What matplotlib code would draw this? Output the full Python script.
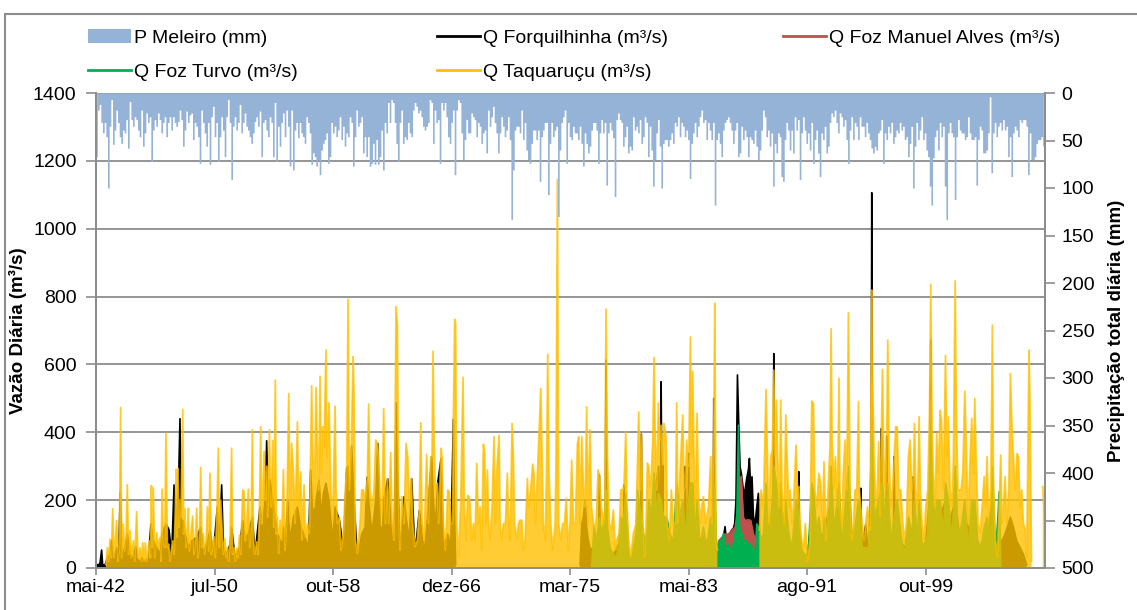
import numpy as np
import matplotlib
matplotlib.use("Agg")
import matplotlib.pyplot as plt
from matplotlib.patches import Patch, Rectangle
from matplotlib.lines import Line2D

plt.rcParams['font.family'] = ['Liberation Sans', 'DejaVu Sans']

nan = float('nan')

# ---------------- data ----------------
X_START = 1942.33          # 1 May 1942 (decimal year)
SPAN_DAYS = 24025
TICK_STEP_DAYS = 3000
TICK_LABELS = ['mai-42', 'jul-50', 'out-58', 'dez-66', 'mar-75', 'mai-83', 'ago-91', 'out-99']

# daily precipitation (max in each ~42-day window), mm
P_START = 1942.376
P_STEP = 0.11553
P_MM = [
 67,18,12,31,42,31,46,100,35,7,54,39,18,31,46,53,39,42,28,58,9,28,35,25,28,39,46,18,56,42,21,31,25,72,39,28,35,21,28,42,
 31,25,46,31,25,39,25,31,35,30,18,28,56,39,19,31,23,21,49,31,35,46,74,18,31,42,56,31,75,25,14,46,31,72,46,25,39,67,25,7,
 31,91,35,25,39,31,12,42,31,21,35,39,46,53,42,30,25,35,19,67,31,28,39,46,25,31,67,10,72,35,
 56,31,21,46,18,35,77,18,81,39,31,47,31,42,46,53,25,31,42,75,63,67,77,70,86,60,53,49,42,74,67,31,42,35,46,39,25,49,35,56,
 42,46,25,31,77,46,18,35,31,25,63,46,67,46,77,74,53,75,49,75,67,39,81,31,42,10,31,7,10,31,53,72,31,18,53,46,49,31,42,46,
 18,10,14,21,18,25,35,39,35,31,7,10,53,18,31,28,74,10,18,10,25,46,53,31,18,86,18,7,10,42,70,49,28,42,
 42,21,25,28,46,31,35,53,42,39,63,18,35,25,14,31,42,63,42,25,35,46,39,25,49,133,81,39,35,35,42,18,49,31,60,70,74,53,39,39,
 49,39,93,46,39,31,31,107,53,31,46,39,35,130,60,31,25,18,74,31,46,49,35,42,42,49,35,53,77,42,53,63,56,39,31,31,39,74,42,28,
 42,31,97,42,31,39,47,109,28,21,28,31,56,46,35,63,56,60,25,39,35,42,28,53,46,25,31,67,35,60,98,70,42,28,
 56,100,53,49,49,56,49,42,53,31,35,25,46,31,35,46,39,49,90,53,42,31,46,35,25,18,31,28,49,31,39,49,31,118,49,42,53,67,39,31,
 28,25,31,39,53,39,31,67,63,35,49,39,46,67,46,49,53,39,56,70,60,39,18,25,46,39,56,42,98,53,63,42,46,88,93,49,31,39,60,39,
 63,25,39,28,91,42,25,39,53,42,60,31,74,49,39,63,88,42,49,35,63,56,31,21,25,18,31,42,21,25,35,28,49,74,
 39,25,49,31,35,49,25,35,35,46,31,42,49,58,63,56,60,42,39,28,74,42,49,35,42,31,53,46,39,42,31,39,35,49,46,67,53,35,100,56,
 31,49,39,25,49,42,60,67,98,118,68,46,39,60,31,46,35,98,133,42,31,42,46,112,46,28,39,42,42,49,46,25,42,49,49,46,97,49,35,39,
 63,63,60,42,4,84,42,31,46,35,31,39,28,39,35,67,46,88,42,35,39,46,28,31,28,28,35,86,42,70,70,67,53,49,49,46,56,
]

# Q Taquaruçu (m3/s): (decimal year, flow)
TAQ = [
 (1943.02,10),(1943.12,60),(1943.21,20),(1943.30,85),(1943.39,30),(1943.49,175),(1943.58,30),(1943.67,80),(1943.76,140),
 (1943.86,20),(1943.95,60),(1944.04,473),(1944.11,30),(1944.22,130),(1944.32,50),(1944.41,90),(1944.50,246),(1944.59,40),
 (1944.69,110),(1944.78,30),(1944.92,80),(1945.01,20),(1945.15,166),(1945.24,30),(1945.38,60),(1945.47,20),(1945.57,75),
 (1945.66,20),(1945.75,75),(1945.84,20),(1946.03,80),(1946.10,30),(1946.17,243),(1946.23,60),(1946.30,235),(1946.40,30),
 (1946.54,105),(1946.63,60),(1946.77,90),(1946.84,20),(1946.91,232),(1947.00,80),(1947.09,60),(1947.18,397),(1947.28,60),
 (1947.37,70),(1947.46,20),(1947.58,60),(1947.64,80),(1947.74,40),(1947.83,170),(1947.88,290),(1947.95,90),(1948.01,294),
 (1948.08,120),(1948.15,200),(1948.22,150),(1948.34,467),(1948.41,100),(1948.50,175),(1948.57,60),(1948.66,100),
 (1948.73,176),(1948.80,50),(1948.89,90),(1949.03,153),(1949.12,40),(1949.22,80),(1949.31,176),(1949.40,30),(1949.49,60),
 (1949.59,296),(1949.68,60),(1949.77,102),(1949.86,40),(1949.96,80),(1950.05,180),(1950.14,50),(1950.23,279),(1950.33,40),
 (1950.42,70),(1950.51,92),(1950.60,30),(1950.70,150),(1950.81,353),(1950.88,60),(1950.97,200),(1951.06,120),(1951.16,40),
 (1951.27,87),(1951.34,30),(1951.43,60),(1951.53,20),(1951.62,80),(1951.73,353),(1951.80,40),(1951.90,60),(1951.99,20),
 (1952.08,58),(1952.17,30),(1952.27,97),(1952.36,40),(1952.50,230),(1952.59,226),(1952.68,80),(1952.77,120),(1952.89,232),
 (1952.98,60),(1953.08,120),(1953.17,407),(1953.24,90),(1953.33,40),(1953.47,77),(1953.56,40),(1953.65,150),(1953.75,416),
 (1953.81,130),(1953.88,200),(1953.98,343),(1954.07,200),(1954.16,300),(1954.23,150),(1954.35,407),(1954.42,230),
 (1954.48,180),(1954.58,376),(1954.65,120),(1954.76,554),(1954.83,100),(1954.90,150),(1954.99,43),
 (1955.09,141),(1955.20,82),(1955.32,290),(1955.43,53),(1955.55,141),(1955.69,514),(1955.78,131),(1955.89,368),(1956.01,289),
 (1956.13,131),(1956.29,431),(1956.38,180),(1956.52,283),(1956.61,82),(1956.75,245),(1956.84,92),(1956.98,131),(1957.12,102),
 (1957.28,537),(1957.35,346),(1957.46,180),(1957.58,531),(1957.67,367),(1957.77,230),(1957.86,565),(1957.95,279),
 (1958.04,416),(1958.14,357),(1958.27,642),(1958.34,327),(1958.48,487),(1958.60,230),(1958.74,141),(1958.90,477),
 (1958.97,230),(1959.06,131),(1959.20,151),(1959.31,53),(1959.48,102),(1959.61,230),(1959.71,294),(1959.80,792),
 (1959.89,230),(1960.03,357),(1960.15,623),(1960.21,524),(1960.31,82),(1960.45,43),(1960.63,131),(1960.75,230),
 (1960.86,230),(1961.00,200),(1961.14,269),(1961.23,483),(1961.32,230),(1961.46,180),(1961.60,230),(1961.72,377),
 (1961.83,367),(1961.92,327),(1962.06,180),(1962.16,161),(1962.27,470),(1962.39,131),(1962.53,263),(1962.62,131),
 (1962.76,340),(1962.85,131),(1962.99,82),(1963.13,770),(1963.22,716),(1963.31,180),(1963.40,53),(1963.52,210),
 (1963.68,131),(1963.82,367),(1963.94,327),(1964.05,180),(1964.19,264),(1964.28,131),(1964.44,63),(1964.60,82),
 (1964.74,171),(1964.84,428),(1964.93,131),(1965.07,82),(1965.25,335),(1965.37,131),(1965.53,327),(1965.62,327),
 (1965.69,639),(1965.76,387),(1965.85,230),(1965.99,250),(1966.08,131),(1966.25,353),(1966.32,323),(1966.41,131),
 (1966.55,53),(1966.71,230),(1966.82,225),(1966.92,131),(1967.05,131),(1967.10,436),(1967.19,733),(1967.26,720),
 (1967.33,131),(1967.47,33),(1967.61,200),(1967.77,562),(1967.86,180),(1967.98,82),(1968.09,214),(1968.19,210),
 (1968.26,190),(1968.37,82),(1968.49,131),(1968.60,82),(1968.72,308),(1968.83,131),(1968.95,180),(1969.06,53),(1969.18,365),
 (1969.27,337),(1969.37,131),(1969.46,289),(1969.55,131),(1969.64,82),(1969.78,180),(1969.92,387),(1970.01,131),
 (1970.10,279),(1970.27,391),(1970.34,131),(1970.45,82),(1970.57,131),(1970.71,131),(1970.84,279),(1970.94,131),
 (1971.03,82),(1971.17,426),(1971.26,328),(1971.35,131),(1971.49,82),(1971.61,131),(1971.72,141),(1971.84,141),
 (1971.95,53),(1972.07,82),(1972.23,264),(1972.32,180),(1972.46,230),(1972.60,306),(1972.69,279),(1972.79,131),
 (1972.97,328),(1973.06,426),(1973.16,529),(1973.25,328),(1973.34,131),(1973.48,82),(1973.57,328),(1973.64,630),
 (1973.73,279),(1973.85,131),(1973.99,53),(1974.15,131),(1974.22,328),(1974.31,1145),(1974.40,131),(1974.54,82),
 (1974.68,131),(1974.80,131),(1974.93,205),(1975.07,53),(1975.19,131),(1975.30,318),(1975.42,131),(1975.56,131),
 (1975.70,367),(1975.79,387),(1975.88,131),(1976.00,387),(1976.11,240),(1976.23,180),(1976.34,475),(1976.44,131),
 (1976.57,407),(1976.67,180),(1976.85,122),(1976.99,131),(1977.13,289),(1977.22,274),(1977.36,180),(1977.50,131),
 (1977.59,171),(1977.68,763),(1977.78,328),(1977.91,131),(1978.05,112),(1978.19,171),(1978.33,53),(1978.42,82),
 (1978.59,102),(1978.70,230),(1978.84,230),(1978.93,245),(1979.05,402),(1979.14,180),(1979.26,82),(1979.39,33),
 (1979.58,102),(1979.76,131),(1979.86,299),(1979.95,460),(1980.04,230),(1980.13,395),(1980.23,151),(1980.36,33),
 (1980.46,131),(1980.55,309),(1980.64,299),(1980.73,240),(1980.83,279),(1980.92,377),(1981.01,620),(1981.10,377),
 (1981.20,230),(1981.31,487),(1981.43,377),(1981.50,420),(1981.61,304),(1981.70,426),
 (1981.84,387),(1981.93,131),(1982.07,82),(1982.21,230),(1982.35,131),(1982.49,131),(1982.58,487),(1982.67,131),
 (1982.81,279),(1983.00,451),(1983.09,230),(1983.18,250),(1983.27,377),(1983.41,300),(1983.53,681),(1983.62,328),
 (1983.69,580),(1983.78,328),(1983.88,180),(1983.99,456),(1984.08,230),(1984.20,131),(1984.31,180),(1984.43,210),
 (1984.59,131),(1984.78,180),(1984.94,328),(1985.03,131),(1985.15,400),(1985.22,780),(1985.31,82),(1985.40,53),
 (1986.80,nan),
 (1988.31,112),(1988.43,230),(1988.59,180),(1988.77,526),(1988.87,328),(1988.96,131),(1989.10,328),(1989.21,348),
 (1989.31,583),(1989.40,328),(1989.49,495),(1989.58,328),(1989.70,180),(1989.79,495),(1989.88,230),(1990.02,131),
 (1990.14,451),(1990.23,328),(1990.35,180),(1990.44,230),(1990.58,131),(1990.67,180),(1990.85,362),(1990.95,230),
 (1991.04,240),(1991.13,131),(1991.25,82),(1991.36,53),(1991.50,131),(1991.66,20),(1991.82,82),(1991.94,492),
 (1992.06,485),(1992.15,230),(1992.29,180),(1992.43,279),(1992.56,250),(1992.70,131),(1992.79,313),(1992.93,82),
 (1993.07,230),(1993.21,362),(1993.28,705),(1993.35,377),(1993.46,230),(1993.58,328),(1993.72,180),(1993.83,559),
 (1993.90,180),(1994.02,131),(1994.13,279),(1994.25,377),(1994.37,230),(1994.48,752),(1994.60,230),
 (1994.71,82),(1994.83,131),(1994.94,230),(1995.06,230),(1995.18,490),(1995.24,230),(1995.34,180),(1995.43,131),
 (1995.57,82),(1995.68,131),(1995.80,180),(1995.89,131),(1995.98,112),(1996.10,819),(1996.17,544),(1996.26,328),
 (1996.35,230),(1996.45,180),(1996.58,372),(1996.68,152),(1996.77,411),(1996.84,585),(1996.93,328),(1997.05,230),
 (1997.14,389),(1997.21,672),(1997.30,328),(1997.42,180),(1997.53,230),(1997.65,328),(1997.76,416),(1997.86,416),
 (1997.97,230),(1998.11,230),(1998.25,131),(1998.36,82),(1998.50,131),(1998.64,328),(1998.76,377),(1998.87,230),
 (1998.99,269),(1999.06,426),(1999.15,230),(1999.27,180),(1999.38,446),(1999.47,230),(1999.59,131),(1999.73,82),
 (1999.84,180),(1999.98,230),(2000.10,456),(2000.19,836),(2000.28,426),(2000.37,279),(2000.49,180),(2000.60,397),
 (2000.72,279),(2000.84,465),(2000.93,436),(2001.07,230),(2001.21,627),(2001.30,328),(2001.41,446),(2001.53,230),
 (2001.67,180),(2001.76,328),(2001.88,846),(2001.97,426),(2002.08,230),(2002.18,230),(2002.29,230),(2002.41,279),
 (2002.55,521),(2002.64,377),(2002.78,131),(2002.92,328),(2003.03,441),(2003.15,279),(2003.24,500),(2003.33,328),
 (2003.47,131),(2003.61,102),(2003.75,180),(2003.89,269),(2003.98,180),(2004.09,328),(2004.21,131),(2004.35,230),
 (2004.46,716),(2004.53,279),(2004.67,82),(2004.81,33),(2004.90,131),(2005.04,333),(2005.13,131),(2005.23,180),
 (2005.34,269),(2005.46,131),(2005.60,230),(2005.71,573),(2005.80,436),(2005.92,328),(2006.04,230),(2006.17,337),
 (2006.27,328),(2006.38,180),(2006.50,230),(2006.61,131),(2006.75,112),(2006.84,33),(2007.00,642),(2007.07,475),
 (2007.17,20),(2007.50,nan),(2007.95,240),(2008.07,160),
]

# Q Forquilhinha (m3/s)
FORQ = [
 (1942.33,12),(1942.49,8),(1942.61,15),(1942.72,53),(1942.79,10),(1942.95,8),(1943.12,30),(1943.30,40),(1943.42,80),
 (1943.53,20),(1943.76,60),(1943.90,30),(1944.01,222),(1944.11,40),(1944.34,60),(1944.50,100),(1944.69,40),(1944.92,30),
 (1945.08,63),(1945.26,15),(1945.50,30),(1945.73,20),(1945.96,30),(1946.14,130),(1946.30,80),(1946.54,60),(1946.77,40),
 (1946.91,100),(1947.18,130),(1947.39,113),(1947.58,40),(1947.74,245),(1947.88,130),(1948.04,225),(1948.15,440),
 (1948.25,120),(1948.38,140),(1948.50,100),(1948.73,60),(1948.96,80),(1949.31,90),(1949.59,120),(1949.77,40),
 (1950.05,80),(1950.23,110),(1950.46,40),(1950.74,180),(1950.88,60),(1951.04,245),(1951.16,60),(1951.39,40),
 (1951.62,70),(1951.73,120),(1951.97,30),(1952.27,60),(1952.50,140),(1952.66,90),(1952.89,100),(1953.17,150),
 (1953.35,40),(1953.70,180),(1953.88,120),(1954.05,200),(1954.16,375),(1954.28,150),(1954.39,260),(1954.58,200),
 (1954.74,150),(1954.90,100),(1955.08,85),(1955.20,60),(1955.32,120),(1955.43,40),(1955.62,200),(1955.78,80),
 (1956.01,150),(1956.29,180),(1956.52,120),(1956.75,100),(1957.05,60),(1957.21,289),(1957.35,150),(1957.58,200),
 (1957.79,259),(1957.95,150),(1958.09,220),(1958.27,250),(1958.48,200),(1958.74,80),(1958.90,180),(1959.20,141),
 (1959.48,60),(1959.71,294),(1959.80,300),(1959.94,150),(1960.05,360),(1960.21,200),(1960.45,30),(1960.75,100),
 (1960.98,120),(1961.12,267),(1961.23,200),(1961.46,100),(1961.72,200),(1961.86,367),(1962.02,120),(1962.20,120),
 (1962.27,200),(1962.55,263),(1962.76,150),(1962.99,40),(1963.13,487),(1963.22,300),(1963.40,40),(1963.68,210),
 (1963.82,150),(1964.05,80),(1964.21,263),(1964.44,40),(1964.74,169),(1964.84,150),(1965.07,40),(1965.25,120),
 (1965.60,328),(1965.71,200),(1965.85,120),(1966.01,250),(1966.25,323),(1966.41,60),(1966.71,100),(1966.92,60),
 (1967.10,438),(1967.19,150),(1967.26,10),(1971.50,nan),
 (1975.88,10),(1976.00,130),(1976.11,150),(1976.23,200),(1976.34,120),(1976.46,80),(1976.57,60),(1976.85,50),
 (1977.16,40),(1977.22,274),(1977.30,40),(1977.62,60),(1977.68,613),(1977.74,60),(1978.19,40),(1978.70,80),
 (1978.88,40),(1978.93,245),(1979.00,60),(1979.35,20),(1979.70,30),(1979.86,120),(1980.08,60),(1980.13,395),
 (1980.20,60),(1980.50,60),(1980.73,100),(1980.92,150),(1981.01,200),(1981.31,300),(1981.45,100),(1981.50,549),
 (1981.56,150),(1981.61,304),(1981.66,100),(1982.00,40),(1982.35,80),(1982.81,100),(1983.13,60),(1983.18,299),
 (1983.23,100),(1983.35,80),(1983.41,338),(1983.47,80),(1983.97,60),(1984.43,100),(1984.78,60),(1984.89,120),
 (1985.10,60),(1985.15,500),(1985.20,60),(1985.40,40),(1985.54,73),(1985.65,83),(1985.82,92),(1985.93,122),(1986.05,73),
 (1986.16,92),(1986.28,102),(1986.39,112),(1986.51,117),(1986.60,132),(1986.69,200),(1986.79,569),(1986.88,426),
 (1986.97,299),(1987.06,279),(1987.20,230),(1987.32,230),(1987.43,264),(1987.55,290),(1987.62,323),(1987.71,230),
 (1987.80,269),(1987.90,151),(1988.01,131),(1988.13,180),(1988.24,220),(1988.36,60),(1988.59,80),(1988.82,150),
 (1989.05,100),(1989.26,80),(1989.31,632),(1989.36,100),(1989.63,100),(1989.79,200),(1990.09,100),(1990.44,80),
 (1990.67,60),(1990.99,60),(1991.04,284),(1991.10,60),(1991.25,40),(1991.59,20),(1991.94,150),(1992.29,80),
 (1992.75,100),(1993.28,200),(1993.67,80),(1994.02,60),(1994.48,150),(1994.71,60),(1994.83,60),(1995.18,150),
 (1995.29,60),(1995.34,235),(1995.40,60),(1995.68,127),(1995.87,40),(1996.05,80),(1996.10,1106),(1996.15,200),
 (1996.33,80),(1996.68,152),(1996.73,100),(1996.77,411),(1996.82,120),(1997.09,100),(1997.14,389),(1997.19,100),
 (1997.60,80),(1997.65,328),(1997.71,100),(1998.06,80),(1998.41,60),(1998.76,120),(1998.94,80),(1998.99,269),
 (1999.05,80),(1999.45,80),(1999.80,60),(2000.10,200),(2000.19,672),(2000.25,150),(2000.60,120),(2000.84,150),
 (2001.21,200),(2001.41,120),(2001.88,200),(2002.22,80),(2002.57,150),(2002.92,100),(2003.26,120),(2003.61,40),
 (2004.07,80),(2004.46,200),(2004.76,20),(2005.11,80),(2005.34,100),(2005.71,150),(2005.92,120),(2006.15,80),
 (2006.38,60),(2006.61,40),(2006.84,10),
]

# Q Foz Manuel Alves (m3/s)
FMA = [
 (1976.69,5),(1977.60,20),(1977.68,150),(1977.74,40),(1978.88,30),(1978.93,100),(1979.00,30),(1980.08,30),
 (1980.13,120),(1980.20,30),(1980.95,40),(1981.01,150),(1981.08,40),(1981.45,50),(1981.50,200),(1981.56,40),
 (1982.52,30),(1982.58,100),(1982.64,30),(1983.48,40),(1983.53,200),(1983.60,60),(1983.69,150),(1983.76,40),
 (1985.15,30),(1985.22,150),(1985.30,30),(1985.49,80),(1985.70,90),(1985.93,100),(1986.16,100),(1986.39,110),
 (1986.63,120),(1986.79,170),(1986.93,260),(1987.06,270),(1987.20,150),(1987.32,140),(1987.55,142),(1987.71,140),
 (1987.90,100),(1988.13,80),(1988.30,30),(1989.25,40),(1989.31,250),(1989.37,40),(1990.09,30),(1990.14,100),
 (1990.20,30),(1991.89,30),(1991.94,120),(1992.00,30),(1993.23,30),(1993.28,200),(1993.34,30),(1994.43,30),
 (1994.48,150),(1994.54,30),(1996.05,40),(1996.10,544),(1996.15,60),(2000.14,40),(2000.19,495),(2000.24,60),
 (2001.83,30),(2001.88,200),(2001.93,30),(2004.41,30),(2004.46,150),(2004.52,20),(2005.04,5),
]

# Q Foz Turvo (m3/s)
FTU = [
 (1976.69,5),(1976.85,122),(1977.04,80),(1977.22,150),(1977.38,100),(1977.59,150),(1977.68,230),(1977.78,120),
 (1977.96,60),(1978.19,40),(1978.33,20),(1978.54,60),(1978.70,150),(1978.84,130),(1978.93,160),(1979.05,220),
 (1979.23,60),(1979.39,10),(1979.58,60),(1979.76,100),(1979.86,230),(1979.95,200),(1980.13,150),(1980.27,100),
 (1980.46,80),(1980.64,200),(1980.83,160),(1981.01,280),(1981.20,150),(1981.31,220),(1981.50,200),(1981.66,150),
 (1981.89,150),(1982.12,100),(1982.35,80),(1982.58,250),(1982.81,150),(1983.00,200),(1983.18,100),(1983.41,200),
 (1983.53,250),(1983.69,250),(1983.88,100),(1983.99,200),(1984.20,60),(1984.43,120),(1984.66,60),(1984.94,150),
 (1985.12,100),(1985.22,250),(1985.35,40),(1985.49,73),(1985.59,83),(1985.70,73),(1985.82,102),(1985.93,73),
 (1986.05,53),(1986.16,73),(1986.28,53),(1986.39,63),(1986.51,73),(1986.63,102),(1986.74,132),(1986.86,421),
 (1986.93,132),(1987.02,73),(1987.11,102),(1987.20,83),(1987.32,73),(1987.43,83),(1987.55,63),(1987.66,73),
 (1987.78,63),(1987.90,53),(1988.01,43),(1988.13,130),(1988.24,120),(1988.36,80),(1988.59,100),(1988.77,250),
 (1988.96,80),(1989.21,200),(1989.31,300),(1989.49,250),(1989.70,100),(1989.79,250),(1990.02,60),(1990.14,200),
 (1990.35,100),(1990.58,60),(1990.85,200),(1991.04,150),(1991.25,50),(1991.50,40),(1991.66,10),(1991.94,250),
 (1992.06,230),(1992.29,100),(1992.43,150),(1992.70,60),(1992.79,150),(1993.07,100),(1993.28,300),(1993.46,120),
 (1993.58,150),(1993.83,250),(1994.02,60),(1994.25,180),(1994.48,300),(1994.71,100),(1994.94,120),(1995.18,200),
 (1995.43,60),(1995.68,60),(1995.89,60),(1996.10,400),(1996.26,150),(1996.58,200),(1996.84,250),(1997.05,100),
 (1997.21,250),(1997.42,80),(1997.65,150),(1997.86,200),(1998.11,100),(1998.36,40),(1998.64,150),(1998.87,100),
 (1999.06,200),(1999.27,80),(1999.38,200),(1999.59,60),(1999.84,80),(1999.98,100),(2000.19,420),(2000.37,150),
 (2000.60,200),(2000.84,200),(2001.07,100),(2001.21,250),(2001.41,200),(2001.67,80),(2001.88,300),(2002.08,100),
 (2002.29,120),(2002.55,200),(2002.78,60),(2003.03,200),(2003.24,200),(2003.47,60),(2003.75,80),(2003.89,120),
 (2004.09,150),(2004.35,100),(2004.46,300),(2004.67,40),(2004.83,141),(2004.93,225),(2005.04,10),
]

COLORS = {'P': '#95B3D7', 'FORQ': '#000000', 'FMA': '#C0504D', 'FTU': '#00B050', 'TAQ': '#FFC000'}
LABELS = {'P': 'P Meleiro (mm)', 'FORQ': 'Q Forquilhinha (m³/s)', 'FMA': 'Q Foz Manuel Alves (m³/s)',
          'FTU': 'Q Foz Turvo (m³/s)', 'TAQ': 'Q Taquaruçu (m³/s)'}

# ---------------- figure ----------------
W, H = 1137, 610
fig = plt.figure(figsize=(W / 100, H / 100), dpi=100)
L, R, T, B = 96, 1045, 93, 568
ax = fig.add_axes([L / W, 1 - B / H, (R - L) / W, (B - T) / H])
ax2 = ax.twinx()

grid_c = '#8C8C8C'
x_end = X_START + SPAN_DAYS / 365.25


def draw_series(axis, pts, color, alpha=1.0, z=2, lw=1.2):
    x = np.array([p[0] for p in pts])
    y = np.array([p[1] for p in pts], dtype=float)
    axis.fill_between(x, 0, y, color=color, alpha=alpha, linewidth=0, zorder=z)
    axis.plot(x, y, color=color, alpha=alpha, linewidth=lw, zorder=z)


draw_series(ax, FORQ, COLORS['FORQ'], z=2)
draw_series(ax, FMA, COLORS['FMA'], z=3)
draw_series(ax, FTU, COLORS['FTU'], z=4)
draw_series(ax, TAQ, COLORS['TAQ'], alpha=0.8, z=5, lw=1.3)

# precipitation, hanging from the top on inverted secondary axis
p_x = P_START + P_STEP * np.arange(len(P_MM))
ax2.fill_between(p_x, 0, P_MM, step='mid', color=COLORS['P'], linewidth=0)

ax.set_xlim(X_START, x_end)
ax.set_ylim(0, 1400)
ax.set_yticks(np.arange(0, 1401, 200))
ax2.set_ylim(500, 0)
ax2.set_yticks(np.arange(0, 501, 50))

tick_pos = [X_START + k * TICK_STEP_DAYS / 365.25 for k in range(len(TICK_LABELS))]
ax.set_xticks(tick_pos)
ax.set_xticklabels(TICK_LABELS)

ax.yaxis.grid(True, color=grid_c, linewidth=1.3)
ax.set_axisbelow(True)

for a in (ax, ax2):
    for s in ('left', 'right', 'bottom'):
        a.spines[s].set_color(grid_c)
        a.spines[s].set_linewidth(1.3)
    a.spines['top'].set_visible(False)

ax.tick_params(axis='y', direction='out', length=7, width=1.2, color=grid_c, labelsize=14, pad=7)
ax.tick_params(axis='x', direction='out', length=5, width=1.2, color=grid_c, labelsize=14, pad=3)
ax2.tick_params(axis='y', direction='out', length=7, width=1.2, color=grid_c, labelsize=14, pad=5)

ax.set_ylabel('Vazão Diária (m³/s)', fontsize=13.5, fontweight='bold')
ax.yaxis.set_label_coords((27 - L) / (R - L), 0.5)
ax2.set_ylabel('Precipitação total diária (mm)', fontsize=13.5, fontweight='bold', rotation=90)
ax2.yaxis.set_label_coords((1108 - L) / (R - L), 0.5)

# legend (three columns, laid out like the original)
hP = Patch(facecolor=COLORS['P'], edgecolor='none')
hF = Line2D([], [], color=COLORS['FORQ'], lw=2)
hM = Line2D([], [], color=COLORS['FMA'], lw=2)
hT = Line2D([], [], color=COLORS['FTU'], lw=2)
hQ = Line2D([], [], color=COLORS['TAQ'], lw=2)
leg_kw = dict(loc='upper left', frameon=False, fontsize=14, handlelength=2.2, handletextpad=0.15,
              borderpad=0, borderaxespad=0, labelspacing=0.85)
top = 1 - 29 / H
fig.legend([hP, hT], [LABELS['P'], LABELS['FTU']], bbox_to_anchor=(88 / W, top), **leg_kw)
fig.legend([hF, hQ], [LABELS['FORQ'], LABELS['TAQ']], bbox_to_anchor=(437 / W, top), **leg_kw)
fig.legend([hM], [LABELS['FMA']], bbox_to_anchor=(783 / W, top), **leg_kw)

# chart-area border
fig.add_artist(Rectangle((5 / W, -0.1), 1.2, 1.1 - 14 / H, transform=fig.transFigure,
                         fill=False, edgecolor='#8C8C8C', linewidth=1.5))

fig.savefig('out.png', dpi=100)
